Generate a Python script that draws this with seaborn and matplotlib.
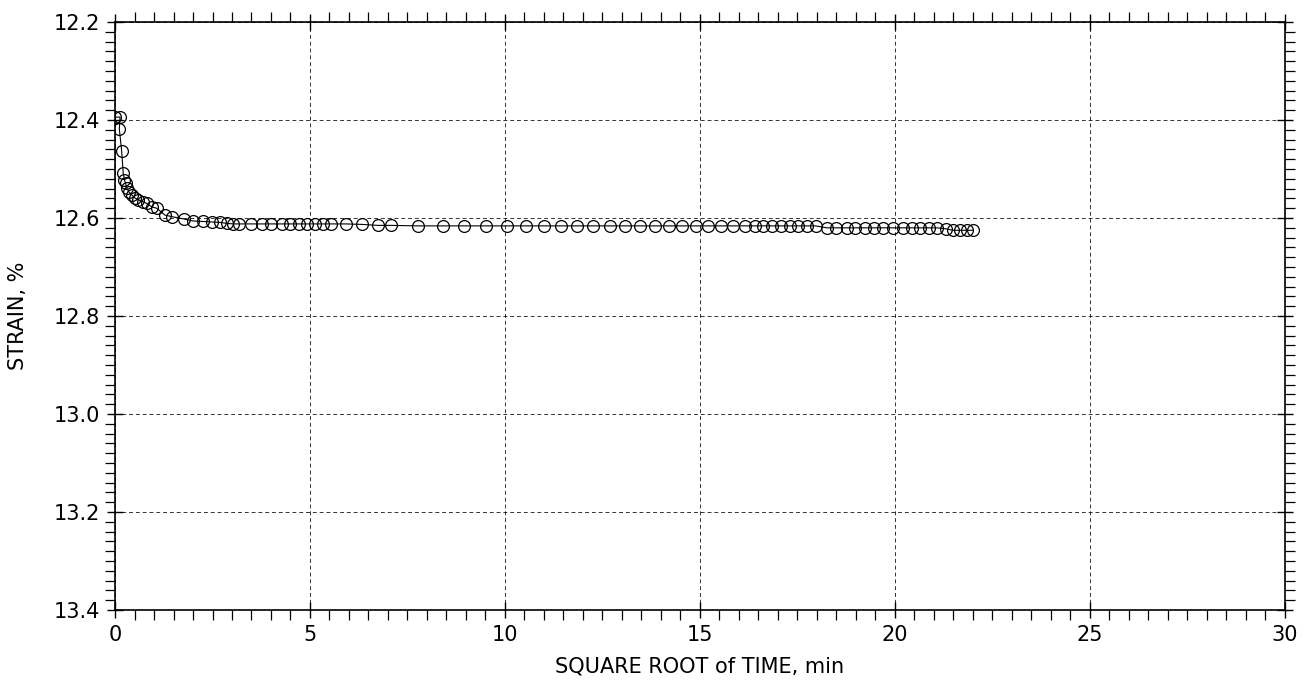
import numpy as np
import pandas as pd
import seaborn as sns
import matplotlib.pyplot as plt
from matplotlib.ticker import MultipleLocator

sns.set_theme(style="white")
plt.rcParams['font.family'] = ['DejaVu Sans']
plt.rcParams.update({'text.color': 'black', 'axes.labelcolor': 'black',
                     'xtick.color': 'black', 'ytick.color': 'black'})

# square root of time (min^0.5) and strain (%)
sqrt_time = [0.0, 0.13, 0.11, 0.17, 0.21, 0.24, 0.27, 0.30, 0.36, 0.43, 0.51, 0.60,
             0.73, 0.81, 0.94, 1.07, 1.28, 1.45, 1.77, 2.00, 2.26, 2.48, 2.69, 2.88,
             3.03, 3.19, 3.48, 3.76, 4.00, 4.27, 4.50, 4.73, 4.93, 5.13, 5.33, 5.54,
             5.92, 6.34, 6.74, 7.08, 7.76, 8.40, 8.95, 9.51, 10.04, 10.54, 11.00,
             11.43, 11.85, 12.26, 12.69, 13.08, 13.46, 13.85, 14.21, 14.55, 14.89,
             15.21, 15.54, 15.86, 16.15, 16.41, 16.62, 16.86, 17.09, 17.31, 17.52,
             17.75, 17.97, 18.25, 18.50, 18.76, 18.97, 19.23, 19.47, 19.70, 19.96,
             20.20, 20.43, 20.64, 20.87, 21.08, 21.31, 21.49, 21.67, 21.85, 22.00]
strain = [12.394, 12.394, 12.418, 12.463, 12.508, 12.522, 12.529, 12.539, 12.547,
          12.553, 12.559, 12.563, 12.567, 12.570, 12.577, 12.580, 12.594, 12.597,
          12.602, 12.606, 12.607, 12.608, 12.609, 12.611, 12.612, 12.612, 12.612,
          12.612, 12.612, 12.612, 12.612, 12.612, 12.612, 12.612, 12.612, 12.612,
          12.612, 12.613, 12.615, 12.615, 12.616, 12.616, 12.616, 12.616, 12.616,
          12.616, 12.616, 12.616, 12.616, 12.616, 12.616, 12.616, 12.616, 12.616,
          12.616, 12.616, 12.616, 12.616, 12.616, 12.616, 12.616, 12.616, 12.616,
          12.616, 12.616, 12.616, 12.616, 12.616, 12.616, 12.620, 12.620, 12.620,
          12.620, 12.620, 12.620, 12.620, 12.620, 12.620, 12.620, 12.620, 12.620,
          12.620, 12.622, 12.625, 12.625, 12.625, 12.625]

df = pd.DataFrame({'sqrt_time': sqrt_time, 'strain': strain})

fig = plt.figure(figsize=(13.1, 6.9), dpi=100)
ax = fig.add_axes([0.0878, 0.116, 0.893, 0.852])

sns.lineplot(data=df, x='sqrt_time', y='strain', ax=ax, sort=False, estimator=None,
             color='black', linewidth=0.8, marker='o', markersize=8.5,
             markerfacecolor='none', markeredgecolor='black', markeredgewidth=0.9)

ax.set_xlim(0, 30)
ax.set_ylim(13.4, 12.2)
ax.xaxis.set_major_locator(MultipleLocator(5))
ax.xaxis.set_minor_locator(MultipleLocator(0.5))
ax.yaxis.set_major_locator(MultipleLocator(0.2))
ax.yaxis.set_minor_locator(MultipleLocator(0.02))
ax.yaxis.set_major_formatter(plt.FormatStrFormatter('%.1f'))

ax.tick_params(which='major', direction='inout', length=12, width=1.0, color='black',
               top=True, right=True, bottom=True, left=True, labelsize=15, pad=5)
ax.tick_params(which='minor', direction='out', length=7, width=0.9, color='black',
               top=True, right=True, bottom=True, left=True)

ax.grid(True, which='major', linestyle=(0, (4, 3)), color='black', linewidth=0.7, alpha=0.8)
for s in ax.spines.values():
    s.set_color('black')
    s.set_linewidth(1.2)

ax.set_xlabel('SQUARE ROOT of TIME, min', fontsize=15, labelpad=8)
ax.set_ylabel('STRAIN, %', fontsize=15, labelpad=18)

fig.savefig('out.png', dpi=100)
